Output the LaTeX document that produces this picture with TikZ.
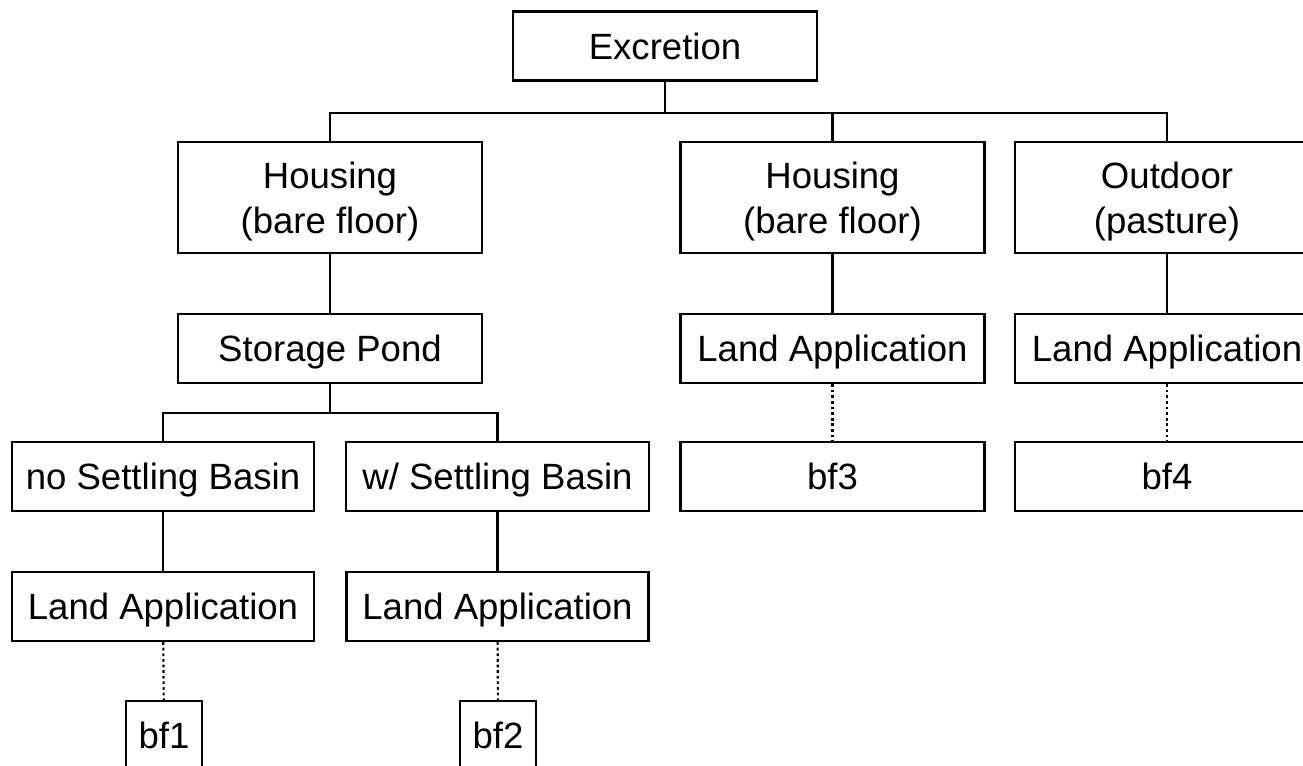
\documentclass[tikz,border=0pt]{standalone}
\usepackage{fontspec}
\setmainfont{Liberation Sans}
\usepackage{xcolor}
\usetikzlibrary{positioning,calc}
\definecolor{ink}{HTML}{000000}
\newcommand{\lastline}[1]{\raisebox{0pt}[\height][0pt]{#1}}
\tikzset{
  box/.style={draw=ink, line width=0.6pt, fill=white, align=center, inner sep=0pt, minimum width=30.4mm, font=\fontsize{10.4}{12.8}\selectfont},
  onebox/.style={box, minimum height=6.9mm, text height=7.4pt, text depth=0pt},
  twobox/.style={box, minimum height=11.1mm},
  tagbox/.style={onebox, minimum width=7.6mm},
  link/.style={draw=ink, line width=0.6pt},
  dotlink/.style={draw=ink, line width=0.6pt, dash pattern=on 0.8pt off 0.8pt}
}
\begin{document}
\begin{tikzpicture}
\clip (0,0) rectangle (13.03,-7.65);
\fill[white] (0,0) rectangle (13.03,-7.65);
% top level
\node[onebox] (exc) at (6.65,-0.46) {Excretion};
\node[twobox] (hsA) at (3.30,-1.975) {Housing\\\lastline{(bare floor)}};
\node[twobox] (hsB) at (8.325,-1.975) {Housing\\\lastline{(bare floor)}};
\node[twobox] (out) at (11.67,-1.975) {Outdoor\\\lastline{(pasture)}};
% second level
\node[onebox] (pond) at (3.30,-3.485) {Storage Pond};
\node[onebox] (laB) at (8.325,-3.485) {Land Application};
\node[onebox] (laC) at (11.67,-3.485) {Land Application};
% basins and results
\node[onebox, minimum width=30.2mm] (noSB) at (1.63,-4.765) {no Settling Basin};
\node[onebox, minimum width=30.3mm] (wSB) at (4.975,-4.765) {w/ Settling Basin};
\node[onebox] (bf3) at (8.325,-4.765) {bf3};
\node[onebox] (bf4) at (11.67,-4.765) {bf4};
\node[onebox, minimum width=30.2mm] (laD) at (1.63,-6.065) {Land Application};
\node[onebox, minimum width=30.2mm] (laE) at (4.975,-6.065) {Land Application};
\node[tagbox] (bf1) at (1.64,-7.355) {bf1};
\node[tagbox] (bf2) at (4.98,-7.355) {bf2};
% connectors
\draw[link] (exc.south) -- ++(0,-0.31) coordinate (j1);
\draw[link] (hsA.north) |- (j1) -| (out.north);
\draw[link] (hsB.north) -- (hsB.north |- j1);
\draw[link] (hsA) -- (pond);
\draw[link] (hsB) -- (laB);
\draw[link] (out) -- (laC);
\draw[link] (pond.south) -- ++(0,-0.29) coordinate (j2);
\draw[link] (noSB.north) |- (j2) -| (wSB.north);
\draw[link] (noSB) -- (laD);
\draw[link] (wSB) -- (laE);
\draw[dotlink] (laB) -- (bf3);
\draw[dotlink] (laC) -- (bf4);
\draw[dotlink] (laD) -- (bf1);
\draw[dotlink] (laE) -- (bf2);
\end{tikzpicture}
\end{document}
